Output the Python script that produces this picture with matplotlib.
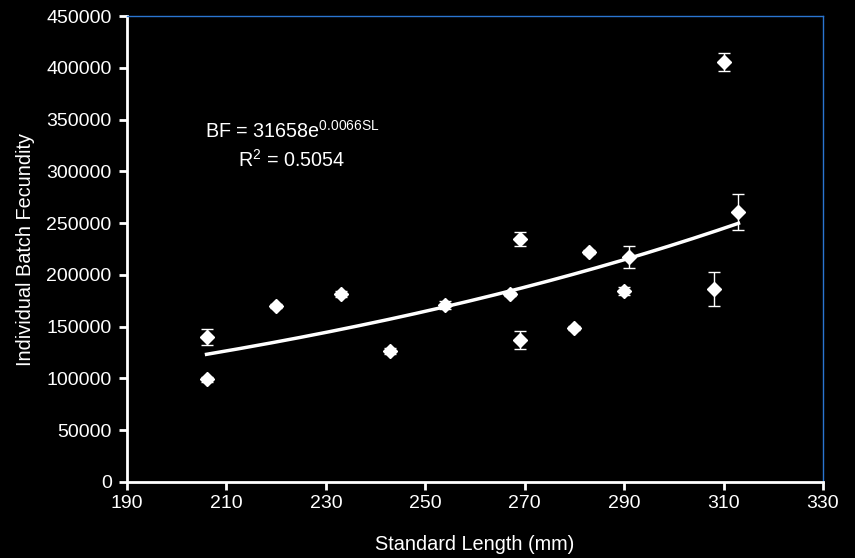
import numpy as np
import matplotlib.pyplot as plt

plt.rcParams['font.family'] = ['Liberation Sans', 'DejaVu Sans']

# standard length (mm), batch fecundity and error
sl = [206, 206, 220, 233, 243, 254, 267, 269, 269, 280, 283, 290, 291, 308, 310, 313]
bf = [140000, 99000, 170000, 181500, 126500, 171000, 181500, 234700, 137100,
      148700, 222100, 184400, 217300, 186400, 405600, 260700]
err = [8000, 2500, 2000, 3000, 3000, 4000, 2000, 6800, 8400,
       1500, 1500, 3500, 10600, 16200, 9000, 17200]

# fitted curve BF = a * exp(b * SL)
a_fit = 31658
b_fit = 0.0066

fig = plt.figure(figsize=(8.55, 5.58), dpi=100, facecolor='black')
ax = fig.add_axes([127 / 855, 1 - 482 / 558, 696 / 855, 466 / 558])
ax.set_facecolor('black')

xs = np.linspace(min(sl), max(sl), 200)
ax.plot(xs, a_fit * np.exp(b_fit * xs), color='white', lw=2.5, zorder=2)
ax.errorbar(sl, bf, yerr=err, fmt='D', color='white', ms=7, ecolor='white',
            elinewidth=1, capsize=4, capthick=1, zorder=3)

ax.set_xlim(190, 330)
ax.set_ylim(0, 450000)
ax.set_xticks(range(190, 331, 20))
ax.set_yticks(range(0, 450001, 50000))

for s in ['left', 'bottom']:
    ax.spines[s].set_color('white')
    ax.spines[s].set_linewidth(2)
for s in ['top', 'right']:
    ax.spines[s].set_color('#2a75d0')
    ax.spines[s].set_linewidth(1)

ax.tick_params(colors='white', labelsize=14, width=2, length=6, direction='out')
ax.tick_params(axis='y', pad=5)
ax.set_xlabel('Standard Length (mm)', color='white', fontsize=14.3, va='center')
ax.set_ylabel('Individual Batch Fecundity', color='white', fontsize=14.3, va='center')
ax.xaxis.set_label_coords(0.5, -(545 - 482) / 466)
ax.yaxis.set_label_coords(-(127 - 25) / 696, 0.5)

ax.text(0.112, 0.738, r'BF = 31658e$^{\mathregular{0.0066SL}}$', transform=ax.transAxes,
        color='white', fontsize=14.2, va='baseline')
ax.text(0.159, 0.676, r'R$^{\mathregular{2}}$ = 0.5054', transform=ax.transAxes,
        color='white', fontsize=14.2, va='baseline')

fig.savefig('out.png', dpi=100, facecolor='black')
